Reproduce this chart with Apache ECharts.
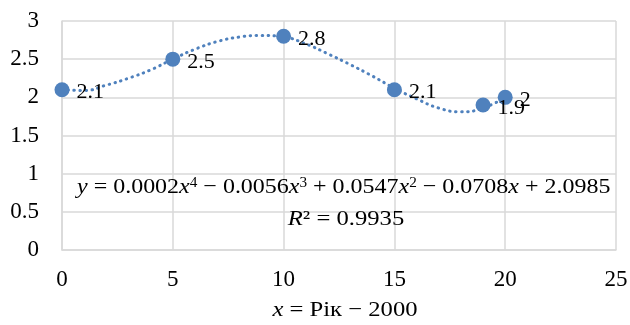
<!DOCTYPE html>
<html>
<head>
<meta charset="utf-8">
<script src="https://cdn.jsdelivr.net/npm/echarts@6/dist/echarts.min.js"></script>
<style>
  html, body { margin: 0; padding: 0; background: #fff; }
  #chart { width: 630px; height: 325px; }
</style>
</head>
<body>
<div id="chart"></div>
<script>
// observed points (x = year - 2000)
var xs = [0, 5, 10, 15, 19, 20];
var ys = [2.1, 2.5, 2.8, 2.1, 1.9, 2];

// trendline
var trendX = [0, 1, 2, 3, 4, 5, 6, 7, 8, 9, 10, 11, 12, 13, 14, 15, 16, 17, 18, 19, 20];
var trendY = [2.10, 2.09, 2.16, 2.25, 2.36, 2.50, 2.63, 2.73, 2.79, 2.81, 2.79, 2.70, 2.57, 2.43, 2.28, 2.12, 1.98, 1.86, 1.81, 1.86, 2.0];

var xTicks = [0, 5, 10, 15, 20, 25];
var yTicks = [0, 0.5, 1, 1.5, 2, 2.5, 3];

var blue = '#4f81bd';
var font = '"Liberation Serif", "Times New Roman", serif';

var chart = echarts.init(document.getElementById('chart'));

var option = {
    animation: false,
    textStyle: { fontFamily: font },
    grid: { left: 62, right: 14, top: 21, bottom: 75, outerBoundsMode: 'none' },
    xAxis: {
        type: 'value',
        min: xTicks[0],
        max: xTicks[xTicks.length - 1],
        interval: 5,
        axisLine: { show: true, lineStyle: { color: '#d9d9d9', width: 1.5 } },
        axisTick: { show: false },
        splitLine: { lineStyle: { color: '#d9d9d9', width: 1.5 } },
        axisLabel: { color: '#000', fontSize: 23, fontFamily: font, margin: 18 }
    },
    yAxis: {
        type: 'value',
        min: yTicks[0],
        max: yTicks[yTicks.length - 1],
        interval: 0.5,
        axisLine: { show: true, lineStyle: { color: '#d9d9d9', width: 1.5 } },
        axisTick: { show: false },
        splitLine: { lineStyle: { color: '#d9d9d9', width: 1.5 } },
        axisLabel: { color: '#000', fontSize: 23, fontFamily: font, margin: 23 }
    },
    series: [
        {
            type: 'line',
            data: trendX.map(function (x, i) { return [x, trendY[i]]; }),
            smooth: true,
            showSymbol: false,
            lineStyle: { color: blue, width: 3, type: [0.5, 5.5], cap: 'round' },
            silent: true,
            z: 1
        },
        {
            type: 'scatter',
            data: xs.map(function (x, i) { return [x, ys[i]]; }),
            symbolSize: 15,
            itemStyle: { color: blue, opacity: 1 },
            label: {
                show: true,
                position: 'right',
                distance: 7,
                offset: [0, 3],
                color: '#000',
                fontSize: 22,
                fontFamily: font,
                formatter: function (p) { return String(p.value[1]); }
            },
            z: 2
        }
    ],
    graphic: [
        {
            type: 'text',
            x: 77,
            y: 187,
            scaleX: 1.09,
            z: 10,
            style: {
                text: '{i|y} = 0.0002{i|x}{s|4} − 0.0056{i|x}{s|3} + 0.0547{i|x}{s|2} − 0.0708{i|x} + 2.0985',
                font: '22px ' + font,
                fill: '#000',
                textVerticalAlign: 'middle',
                rich: {
                    i: { fontStyle: 'italic', fontSize: 22, fontFamily: font, fill: '#000' },
                    s: { fontSize: 14, fontFamily: font, verticalAlign: 'top', fill: '#000' }
                }
            }
        },
        {
            type: 'text',
            x: 346,
            y: 219,
            scaleX: 1.12,
            z: 10,
            style: {
                text: '{i|R}² = 0.9935',
                font: '22px ' + font,
                fill: '#000',
                textAlign: 'center',
                textVerticalAlign: 'middle',
                rich: {
                    i: { fontStyle: 'italic', fontSize: 22, fontFamily: font, fill: '#000' }
                }
            }
        },
        {
            type: 'text',
            x: 345,
            y: 310,
            scaleX: 1.12,
            z: 10,
            style: {
                text: '{i|x} = Рік − 2000',
                font: '22px ' + font,
                fill: '#000',
                textAlign: 'center',
                textVerticalAlign: 'middle',
                rich: {
                    i: { fontStyle: 'italic', fontSize: 22, fontFamily: font, fill: '#000' }
                }
            }
        }
    ]
};

chart.setOption(option);
</script>
</body>
</html>
